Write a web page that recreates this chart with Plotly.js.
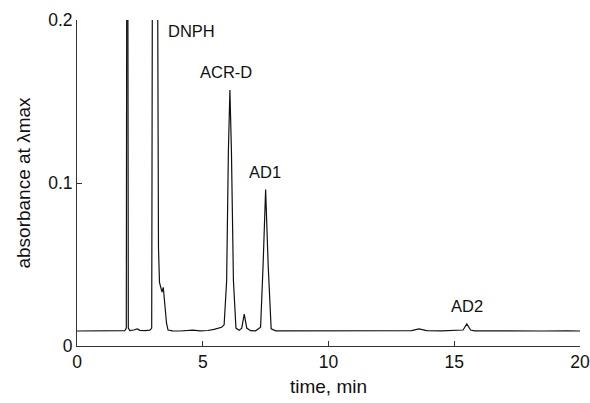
<!DOCTYPE html>
<html>
<head>
<meta charset="utf-8">
<script src="https://cdn.plot.ly/plotly-3.0.1.min.js"></script>
<style>html,body{margin:0;padding:0;background:#fff;}#chart{width:590px;height:403px;}</style>
</head>
<body>
<div id="chart"></div>
<script>
// Chromatogram trace (time in min, absorbance)
const timeMin = [0, 0.4, 0.8, 1.2, 1.6, 1.9, 1.96, 2.0, 2.04, 2.1, 2.25, 2.4, 2.5, 2.7, 2.9, 2.97, 3.0, 3.05, 3.15, 3.2, 3.24, 3.28, 3.34, 3.38, 3.43, 3.5, 3.56, 3.62, 3.8, 4.1, 4.5, 4.6, 4.9, 5.2, 5.45, 5.6, 5.75, 5.85, 5.95, 6.02, 6.08, 6.14, 6.22, 6.32, 6.45, 6.55, 6.65, 6.75, 6.9, 7.1, 7.3, 7.4, 7.5, 7.6, 7.72, 7.9, 8.5, 9.5, 10.5, 11.5, 12.5, 13.3, 13.6, 13.9, 14.5, 15.2, 15.35, 15.5, 15.65, 15.8, 16.5, 17.5, 18.5, 19.5, 20];
const absorb = [0.0092, 0.0093, 0.0091, 0.0092, 0.0093, 0.0094, 0.011, 0.5, 0.011, 0.0095, 0.0098, 0.0105, 0.0096, 0.0094, 0.0097, 0.011, 0.25, 0.6, 0.6, 0.25, 0.06, 0.039, 0.034, 0.033, 0.036, 0.026, 0.014, 0.0098, 0.0093, 0.0092, 0.0094, 0.0098, 0.0093, 0.0095, 0.0102, 0.0108, 0.0115, 0.013, 0.04, 0.12, 0.157, 0.12, 0.04, 0.011, 0.0096, 0.011, 0.0196, 0.011, 0.0094, 0.0093, 0.0115, 0.05, 0.096, 0.05, 0.0105, 0.0093, 0.0093, 0.0092, 0.0093, 0.0092, 0.0093, 0.0094, 0.0105, 0.0094, 0.0093, 0.0094, 0.0098, 0.0135, 0.0098, 0.0093, 0.0092, 0.0093, 0.0092, 0.0093, 0.0092];

const peakNames = ["DNPH", "ACR-D", "AD1", "AD2"];
const labelX = [4.55, 5.93, 7.47, 15.5];
const labelY = [0.193, 0.168, 0.107, 0.0245];

const xTicks = [0, 5, 10, 15, 20];
const yTicks = [0, 0.1, 0.2];
const yTickText = ["0", "0.1", "0.2"];

const FONT = "Liberation Sans, Arial, sans-serif";

const trace = {
  x: timeMin, y: absorb, type: "scatter", mode: "lines",
  line: {color: "#111", width: 1.2}, hoverinfo: "skip"
};

const annotations = peakNames.map((n, i) => ({
  x: labelX[i], y: labelY[i], xref: "x", yref: "y", text: n,
  showarrow: false, font: {family: FONT, size: 16.5, color: "#111"}
}));

const layout = {
  width: 590, height: 403,
  margin: {l: 77, r: 10, t: 20, b: 57},
  paper_bgcolor: "#fff", plot_bgcolor: "#fff",
  showlegend: false,
  font: {family: FONT, color: "#111"},
  xaxis: {
    range: [0, 20], tickvals: xTicks, ticks: "inside", ticklen: 5, tickcolor: "#333",
    showline: true, linecolor: "#333", linewidth: 1, showgrid: false, zeroline: false,
    tickfont: {size: 17.5, color: "#111"},
    title: {text: "time, min", font: {size: 19, color: "#111"}, standoff: 8}
  },
  yaxis: {
    range: [0, 0.2], tickvals: yTicks, ticktext: yTickText, ticks: "inside", ticklen: 5, tickcolor: "#333",
    showline: true, linecolor: "#333", linewidth: 1, showgrid: false, zeroline: false,
    tickfont: {size: 17.5, color: "#111"},
    title: {text: "absorbance at λmax", font: {size: 19, color: "#111"}, standoff: 12}
  },
  annotations: annotations
};

Plotly.newPlot("chart", [trace], layout, {displayModeBar: false, staticPlot: true});
</script>
</body>
</html>
